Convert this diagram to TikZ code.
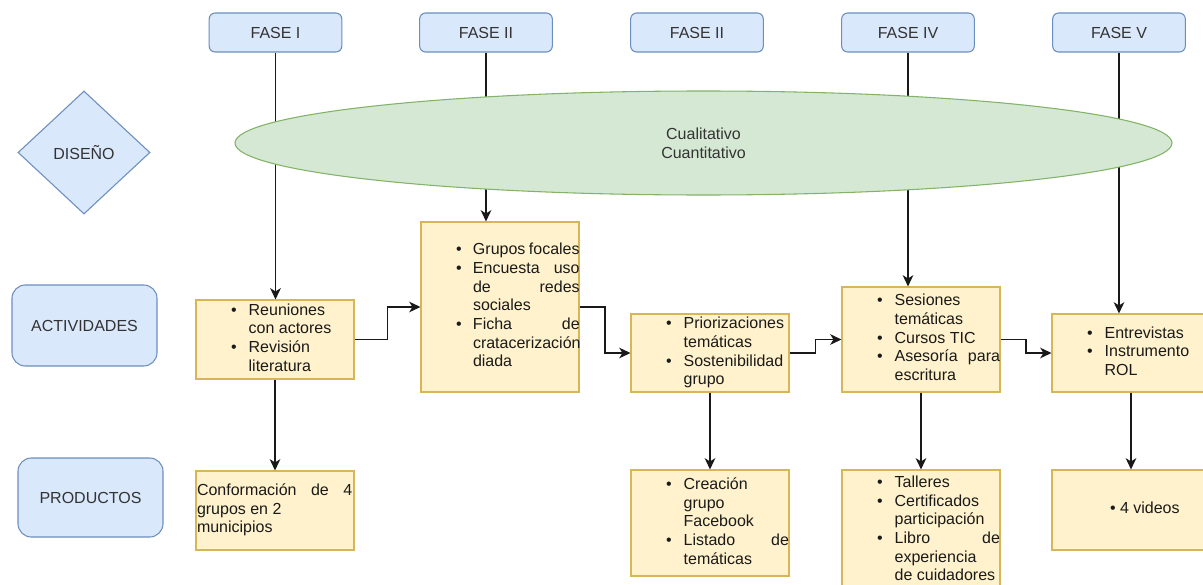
\documentclass[tikz,border=0pt]{standalone}
\usepackage{fontspec}
\setmainfont{Liberation Sans}
\usetikzlibrary{shapes.geometric,arrows.meta,calc}
\definecolor{blfill}{HTML}{DAE8FC}
\definecolor{blline}{HTML}{6C8EBF}
\definecolor{yefill}{HTML}{FFF2CC}
\definecolor{yeline}{HTML}{D6B656}
\definecolor{grfill}{HTML}{D5E8D4}
\definecolor{grline}{HTML}{82B366}
\definecolor{lbltext}{HTML}{333333}
\definecolor{boxtext}{HTML}{1A1A1A}
\newdimen\bulX \bulX=26.4pt
\newdimen\txtX \txtX=39.5pt
\newdimen\txtW \txtW=79pt
\newcommand\Bl[1]{\hbox to 118.5pt{\strut\hskip\bulX\hbox to 0pt{\textbullet\hss}\hskip\dimexpr\txtX-\bulX\relax\hbox to \txtW{#1\hfil}\hss}}
\newcommand\Cl[1]{\hbox to 118.5pt{\strut\hskip\txtX\hbox to \txtW{#1\hfil}\hss}}
\newcommand\Pl[1]{\hbox to 118.5pt{\strut\hskip0.75pt\hbox to 116.5pt{#1\hfil}\hss}}
\tikzset{
  fase/.style={draw=blline, fill=blfill, rounded corners=4.5pt, line width=0.8pt,
    minimum width=99.5pt, minimum height=29.25pt, inner sep=0pt, text=lbltext},
  lbox/.style={draw=blline, fill=blfill, rounded corners=10pt, line width=0.8pt,
    minimum width=108.75pt, inner sep=0pt, text=lbltext},
  ybox/.style={draw=yeline, fill=yefill, line width=0.8pt, minimum width=118.5pt,
    inner sep=0pt, text=boxtext},
  arr/.style={line width=1pt, draw=black!90, -{Stealth[length=8.5pt,width=8pt,inset=2.5pt]}}
}
\begin{document}
\begin{tikzpicture}[x=0.75pt, y=-0.75pt, font=\fontsize{12}{14}\selectfont]
\useasboundingbox[fill=white] (0,0) rectangle (1203,585);

% phase boxes
\node[fase] (f1) at (275.5,32.5) {FASE I};
\node[fase] (f2) at (486,32.5) {FASE II};
\node[fase] (f3) at (697,32.5) {FASE II};
\node[fase] (f4) at (908,32.5) {FASE IV};
\node[fase] (f5) at (1119,32.5) {FASE V};

% row labels
\node[diamond, draw=blline, fill=blfill, line width=0.8pt, minimum width=99pt,
  minimum height=92.25pt, inner sep=0pt, text=lbltext] (dis) at (84,152.5) {DISEÑO};
\node[lbox, minimum height=60.75pt] (act) at (84.5,325.5) {ACTIVIDADES};
\node[lbox, minimum height=59.25pt] (pro) at (90.5,497.5) {PRODUCTOS};

% activity boxes
\node[ybox, minimum height=59.25pt] (a1) at (275,339.5) {\vbox{%
  \Bl{Reuniones}\Cl{con actores}\Bl{Revisión}\Cl{literatura}}};
\node[ybox, minimum height=127.5pt] (a2) at (500,307) {\vbox{\txtX=39pt \txtW=80pt
  \Bl{Grupos focales}\Bl{Encuesta\hfill uso}\Cl{de\hfill redes}\Cl{sociales}%
  \Bl{Ficha\hfill de}\Cl{cratacerización}\Cl{diada}}};
\node[ybox, minimum height=58.5pt] (a3) at (710,353) {\vbox{%
  \Bl{Priorizaciones}\Cl{temáticas}\Bl{Sostenibilidad}\Cl{grupo}}};
\node[ybox, minimum height=78.75pt] (a4) at (921,339.5) {\vbox{%
  \Bl{Sesiones}\Cl{temáticas}\Bl{Cursos TIC}\Bl{Asesoría\hfill para}\Cl{escritura}}};
\node[ybox, minimum height=58.5pt] (a5) at (1131,353) {\vbox{%
  \Bl{Entrevistas}\Bl{Instrumento}\Cl{ROL}}};

% product boxes
\node[ybox, minimum height=59.25pt] (p1) at (275,510.5) {\vbox{%
  \Pl{Conformación\hfill de\hfill 4}\Pl{grupos en 2}\Pl{municipios}}};
\node[ybox, minimum height=79.5pt] (p3) at (710,523) {\vbox{%
  \Bl{Creación}\Cl{grupo}\Cl{Facebook}\Bl{Listado\hfill de}\Cl{temáticas}}};
\node[ybox, minimum height=90.75pt] (p4) at (921,530.5) {\vbox{%
  \Bl{Talleres}\Bl{Certificados}\Cl{participación}\Bl{Libro\hfill de}\Cl{experiencia}\Cl{de cuidadores}}};
\node[ybox, minimum height=60pt] (p5) at (1131,510) {\vbox{\bulX=43.6pt \txtX=51pt
  \Bl{4 videos}}};

% phase lines (drawn before the ellipse, which covers them)
\draw[arr] (f1.south) -- (f1.south |- a1.north);
\draw[arr] (f2.south) -- (f2.south |- a2.north);
\draw[arr] (f4.south) -- (f4.south |- a4.north);
\draw[arr] (f5.south) -- (f5.south |- a5.north);

% design ellipse
\node[ellipse, draw=grline, fill=grfill, line width=0.8pt, minimum width=702.75pt,
  minimum height=78pt, inner sep=0pt, align=center, text=lbltext] (des) at (703.5,143)
  {Cualitativo\\Cuantitativo};

% activity chain
\draw[arr] (a1.east) -| ($(a1.east)!0.5!(a2.west)$) |- (a2.west);
\draw[arr] (a2.east) -| ($(a2.east)!0.5!(a3.west)$) |- (a3.west);
\draw[arr] (a3.east) -| ($(a3.east)!0.5!(a4.west)$) |- (a4.west);
\draw[arr] (a4.east) -| ($(a4.east)!0.5!(a5.west)$) |- (a5.west);

% activities to products
\draw[arr] (a1.south) -- (p1.north);
\draw[arr] (a3.south) -- (p3.north);
\draw[arr] (a4.south) -- (p4.north);
\draw[arr] (a5.south) -- (p5.north);
\end{tikzpicture}
\end{document}
